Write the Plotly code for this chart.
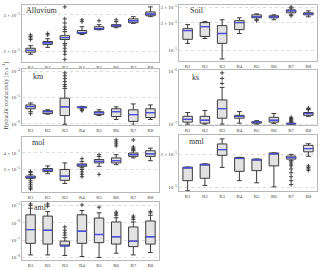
import plotly.graph_objects as go
import math

CATS = ["R1", "R2", "R3", "R4", "R5", "R6", "R7", "R8"]
PANELS = ["Alluvium", "Soil", "km", "ks", "mol", "mml", "aml"]

# ---- Alluvium
ALLUVIUM_LF = [1.935e-5, 2.09e-5, 2.18e-5, 2.41e-5, 2.54e-5, 2.60e-5, 2.73e-5, 2.94e-5]
ALLUVIUM_Q1 = [1.98e-5, 2.16e-5, 2.28e-5, 2.44e-5, 2.55e-5, 2.63e-5, 2.75e-5, 2.97e-5]
ALLUVIUM_MED = [2.02e-5, 2.20e-5, 2.33e-5, 2.46e-5, 2.57e-5, 2.66e-5, 2.81e-5, 3.03e-5]
ALLUVIUM_Q3 = [2.07e-5, 2.23e-5, 2.38e-5, 2.52e-5, 2.63e-5, 2.69e-5, 2.87e-5, 3.10e-5]
ALLUVIUM_UF = [2.13e-5, 2.30e-5, 2.49e-5, 2.63e-5, 2.69e-5, 2.78e-5, 2.94e-5, 3.28e-5]
ALLUVIUM_OUT = [[2.28e-5, 2.32e-5, 2.36e-5, 2.40e-5], [2.40e-5, 2.44e-5],
                [3.28e-5, 2.87e-5, 2.74e-5, 2.62e-5, 2.55e-5, 2.14e-5, 2.07e-5, 2.0e-5, 1.935e-5, 1.83e-5],
                [2.78e-5, 2.84e-5], [2.81e-5], [2.84e-5], [], []]

# ---- Soil
SOIL_LF = [1.19e-5, 1.35e-5, 0.80e-5, 1.53e-5, 2.17e-5, 2.17e-5, 2.46e-5, 2.34e-5]
SOIL_Q1 = [1.32e-5, 1.42e-5, 1.19e-5, 1.69e-5, 2.28e-5, 2.28e-5, 2.59e-5, 2.46e-5]
SOIL_MED = [1.65e-5, 1.82e-5, 1.53e-5, 2.02e-5, 2.34e-5, 2.34e-5, 2.72e-5, 2.52e-5]
SOIL_Q3 = [1.73e-5, 2.02e-5, 1.87e-5, 2.12e-5, 2.46e-5, 2.40e-5, 2.79e-5, 2.59e-5]
SOIL_UF = [1.92e-5, 2.07e-5, 2.17e-5, 2.28e-5, 2.52e-5, 2.46e-5, 2.93e-5, 2.72e-5]
SOIL_OUT = [[], [], [], [], [2.12e-5], [], [3.0e-5, 2.40e-5], []]

# ---- km
KM_LF = [2.90e-6, 2.35e-6, 9.6e-7, 3.75e-6, 2.07e-6, 1.47e-6, 8.8e-7, 1.47e-6]
KM_Q1 = [3.75e-6, 2.45e-6, 2.07e-6, 4.08e-6, 2.25e-6, 1.90e-6, 1.24e-6, 1.74e-6]
KM_MED = [4.56e-6, 2.90e-6, 4.45e-6, 4.26e-6, 2.67e-6, 2.90e-6, 2.25e-6, 2.67e-6]
KM_Q3 = [5.27e-6, 3.16e-6, 9.57e-6, 4.45e-6, 2.90e-6, 3.75e-6, 3.44e-6, 3.75e-6]
KM_UF = [6.25e-6, 3.44e-6, 2.25e-5, 4.64e-6, 3.44e-6, 4.45e-6, 5.74e-6, 5.27e-6]
KM_OUT = [[2.45e-6], [], [8.8e-5, 6.8e-5, 5.3e-5, 4.1e-5, 3.16e-5, 2.67e-5],
          [3.44e-6, 3.16e-6], [], [], [], []]

# ---- ks
KS_LF = [1.0e-7, 1.0e-7, 1.0e-7, 1.04e-7, 1.0e-7, 1.02e-7, 1.0e-7, 1.40e-7]
KS_Q1 = [1.09e-7, 1.04e-7, 1.29e-7, 1.29e-7, 1.04e-7, 1.09e-7, 1.0e-7, 1.46e-7]
KS_MED = [1.23e-7, 1.18e-7, 1.95e-7, 1.40e-7, 1.09e-7, 1.18e-7, 1.02e-7, 1.58e-7]
KS_Q3 = [1.40e-7, 1.40e-7, 2.85e-7, 1.46e-7, 1.11e-7, 1.34e-7, 1.04e-7, 1.65e-7]
KS_UF = [1.65e-7, 1.80e-7, 4.9e-7, 1.72e-7, 1.16e-7, 1.58e-7, 1.09e-7, 1.87e-7]
KS_OUT = [[], [], [9.2e-7, 7.2e-7, 5.8e-7], [], [], [],
          [1.13e-7, 1.18e-7, 1.23e-7, 1.28e-7, 1.34e-7], [1.95e-7, 2.0e-7]]

# ---- mol
MOL_LF = [2.57e-5, 2.79e-5, 2.36e-5, 3.09e-5, 3.17e-5, 3.26e-5, 3.66e-5, 3.49e-5]
MOL_Q1 = [2.58e-5, 2.89e-5, 2.49e-5, 3.17e-5, 3.36e-5, 3.36e-5, 3.76e-5, 3.76e-5]
MOL_MED = [2.63e-5, 2.96e-5, 2.68e-5, 3.25e-5, 3.45e-5, 3.49e-5, 3.87e-5, 3.93e-5]
MOL_Q3 = [2.68e-5, 3.05e-5, 3.00e-5, 3.30e-5, 3.56e-5, 3.66e-5, 3.98e-5, 4.14e-5]
MOL_UF = [2.76e-5, 3.19e-5, 3.36e-5, 3.45e-5, 3.76e-5, 3.87e-5, 4.14e-5, 4.33e-5]
MOL_OUT = [[2.85e-5, 2.90e-5, 2.49e-5, 2.41e-5, 2.33e-5, 2.25e-5, 2.18e-5, 2.14e-5], [], [],
           [3.61e-5, 3.0e-5, 2.88e-5, 2.76e-5, 2.65e-5], [3.87e-5, 2.76e-5],
           [4.99e-5, 4.82e-5, 4.66e-5, 4.50e-5], [4.99e-5, 4.42e-5, 4.32e-5, 4.22e-5], []]

# ---- mml
MML_LF = [9.3e-6, 1.04e-5, 1.52e-5, 1.15e-5, 1.10e-5, 1.01e-5, 1.75e-5, 1.92e-5]
MML_Q1 = [1.15e-5, 1.21e-5, 1.96e-5, 1.40e-5, 1.42e-5, 1.57e-5, 1.81e-5, 2.11e-5]
MML_MED = [1.51e-5, 1.61e-5, 2.21e-5, 1.84e-5, 1.78e-5, 2.02e-5, 1.87e-5, 2.26e-5]
MML_Q3 = [1.53e-5, 1.63e-5, 2.49e-5, 1.87e-5, 1.81e-5, 2.06e-5, 1.93e-5, 2.42e-5]
MML_UF = [1.53e-5, 1.64e-5, 2.77e-5, 1.88e-5, 1.81e-5, 2.06e-5, 2.00e-5, 2.50e-5]
MML_OUT = [[], [], [], [], [], [],
           [1.70e-5, 1.63e-5, 1.57e-5, 1.47e-5, 1.36e-5, 1.25e-5, 1.15e-5, 1.06e-5],
           [1.57e-5, 1.52e-5, 1.47e-5, 1.43e-5]]

# ---- aml
AML_LF = [1.36e-8, 1.36e-8, 1.26e-8, 1.10e-8, 9.7e-9, 1.71e-8, 1.36e-8, 1.87e-8]
AML_Q1 = [6.4e-8, 5.8e-8, 4.47e-8, 6.4e-8, 7.0e-8, 5.8e-8, 4.13e-8, 5.8e-8]
AML_MED = [4.05e-7, 3.69e-7, 4.6e-8, 3.24e-7, 2.09e-7, 1.55e-7, 8.65e-8, 1.55e-7]
AML_Q3 = [2.93e-6, 2.47e-6, 8.65e-8, 2.93e-6, 1.90e-6, 1.12e-6, 5.78e-7, 1.28e-6]
AML_UF = [7.1e-6, 4.53e-6, 1.36e-7, 5.17e-6, 3.82e-6, 1.97e-6, 1.12e-6, 2.75e-6]
AML_OUT = [[1.25e-5, 1.0e-5], [1.25e-5, 9.2e-6], [5.78e-7, 3.69e-7, 2.62e-7, 1.91e-7],
           [1.1e-5], [8.1e-6], [4.19e-6, 3.34e-6, 2.75e-6], [2.47e-6, 1.97e-6, 1.58e-6],
           [4.6e-6, 3.8e-6]]

# y ticks per panel
ALLUVIUM_TICKS = [2e-5, 3e-5]
SOIL_TICKS = [1e-5, 2e-5, 3e-5]
KM_TICKS = [1e-6, 1e-5, 1e-4]
KS_TICKS = [1e-7, 1e-6]
MOL_TICKS = [3e-5, 4e-5]
MML_TICKS = [1e-5, 2e-5]
AML_TICKS = [1e-8, 1e-7, 1e-6, 1e-5]

STATS = [
    (ALLUVIUM_LF, ALLUVIUM_Q1, ALLUVIUM_MED, ALLUVIUM_Q3, ALLUVIUM_UF, ALLUVIUM_OUT, ALLUVIUM_TICKS),
    (SOIL_LF, SOIL_Q1, SOIL_MED, SOIL_Q3, SOIL_UF, SOIL_OUT, SOIL_TICKS),
    (KM_LF, KM_Q1, KM_MED, KM_Q3, KM_UF, KM_OUT, KM_TICKS),
    (KS_LF, KS_Q1, KS_MED, KS_Q3, KS_UF, KS_OUT, KS_TICKS),
    (MOL_LF, MOL_Q1, MOL_MED, MOL_Q3, MOL_UF, MOL_OUT, MOL_TICKS),
    (MML_LF, MML_Q1, MML_MED, MML_Q3, MML_UF, MML_OUT, MML_TICKS),
    (AML_LF, AML_Q1, AML_MED, AML_Q3, AML_UF, AML_OUT, AML_TICKS),
]

# ---- layout (pixels)
W, H = 320, 270
BOXES = [(22, 159, 3, 61), (179, 317, 3, 60),
         (22, 159, 68, 125), (179, 317, 69, 125),
         (22, 159, 137, 193), (179, 317, 135, 192),
         (22, 159, 203, 262)]
YRANGES = [(-4.751, -4.475), (-5.12, -4.50), (-6.05, -3.907), (-7.02, -5.982),
           (-4.692, -4.28), (-5.035, -4.522), (-8.169, -4.788)]
LABEL_POS = [(24, 9), (188, 9), (31, 76), (190, 77), (30, 143), (187, 142), (32, 209)]

FONT = "Liberation Serif"
BOX_FILL = "#e2e2e2"
BOX_LINE = "#3a3a3a"
MED_COLOR = "#4c4ce6"
OUT_COLOR = "#333333"


def tick_text(v):
    e = int(math.floor(math.log10(v) + 1e-9))
    m = v / 10 ** e
    exp = "10<sup>\u2212%d</sup>" % (-e)
    if abs(m - 1) < 1e-6:
        return exp
    return "%d \u00d7 %s" % (round(m), exp)


fig = go.Figure()
layout = {}
annotations = []
for i, (name, st, bx, yr, lp) in enumerate(zip(PANELS, STATS, BOXES, YRANGES, LABEL_POS)):
    lf, q1, med, q3, uf, outs, ticks = st
    xa = "x" if i == 0 else "x%d" % (i + 1)
    ya = "y" if i == 0 else "y%d" % (i + 1)
    fig.add_trace(go.Box(x=CATS, q1=q1, median=med, q3=q3, lowerfence=lf, upperfence=uf,
                         xaxis=xa, yaxis=ya, width=0.55, whiskerwidth=0.5,
                         fillcolor=BOX_FILL, line=dict(color=BOX_LINE, width=1),
                         hoverinfo="skip", showlegend=False))
    fig.add_trace(go.Box(x=CATS, q1=med, median=med, q3=med, lowerfence=med, upperfence=med,
                         xaxis=xa, yaxis=ya, width=0.55, whiskerwidth=0,
                         fillcolor="rgba(0,0,0,0)", line=dict(color=MED_COLOR, width=1.3),
                         hoverinfo="skip", showlegend=False))
    ox, oy = [], []
    for c, vals in zip(CATS, outs):
        for v in vals:
            ox.append(c)
            oy.append(v)
    if ox:
        fig.add_trace(go.Scatter(x=ox, y=oy, xaxis=xa, yaxis=ya, mode="markers",
                                 marker=dict(symbol="cross-thin-open", size=3, color=OUT_COLOR,
                                             line=dict(color=OUT_COLOR, width=0.9)),
                                 hoverinfo="skip", showlegend=False))
    x0, x1, yt, yb = bx
    key = "" if i == 0 else str(i + 1)
    layout["xaxis" + key] = dict(domain=[x0 / W, x1 / W], anchor=ya, type="category",
                                 categoryorder="array", categoryarray=CATS,
                                 range=[-0.5, 7.5], showgrid=False, zeroline=False,
                                 showline=True, mirror=True, linecolor="#b8b8b8", linewidth=1,
                                 ticks="", tickfont=dict(family=FONT, size=5, color="#444"))
    layout["yaxis" + key] = dict(domain=[1 - yb / H, 1 - yt / H], anchor=xa, type="log",
                                 range=list(yr), tickvals=ticks,
                                 ticktext=[tick_text(t) for t in ticks],
                                 showgrid=True, gridcolor="#cfcfcf", griddash="dot", gridwidth=0.7,
                                 zeroline=False, showline=True, mirror=True,
                                 linecolor="#b8b8b8", linewidth=1, ticks="",
                                 tickfont=dict(family=FONT, size=5, color="#444"))
    annotations.append(dict(text=name, x=lp[0] / W, y=1 - lp[1] / H, xref="paper", yref="paper",
                            xanchor="left", yanchor="middle", showarrow=False,
                            font=dict(family=FONT, size=8, color="#333")))

annotations.append(dict(text="Hydraulic conductivity [m s<sup>\u22121</sup>]", x=5 / W, y=1 - 95 / H,
                        xref="paper", yref="paper", xanchor="center", yanchor="middle",
                        textangle=-90, showarrow=False,
                        font=dict(family=FONT, size=5.5, color="#444")))

fig.update_layout(width=W, height=H, margin=dict(l=0, r=0, t=0, b=0),
                  paper_bgcolor="white", plot_bgcolor="white",
                  boxmode="overlay", annotations=annotations, **layout)
fig.write_html("out.html", config={"displayModeBar": False, "staticPlot": True},
               post_script="document.body.style.margin='0';document.body.style.overflow='hidden';")
